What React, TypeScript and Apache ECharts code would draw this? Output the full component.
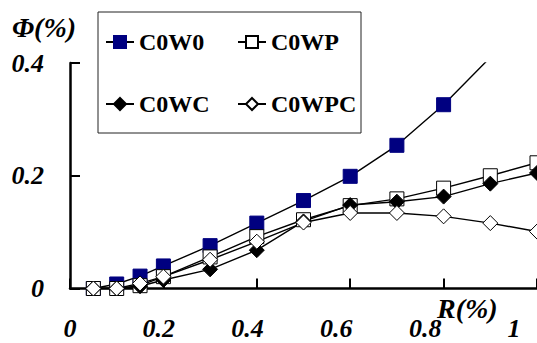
import React, { useEffect, useRef } from "react";
import * as echarts from "echarts";

const xValues = [0.05, 0.1, 0.15, 0.2, 0.3, 0.4, 0.5, 0.6, 0.7, 0.8, 0.9, 1.0];
const c0w0 = [0, 0.008, 0.022, 0.04, 0.076, 0.116, 0.156, 0.199, 0.254, 0.326, 0.41, 0.49];
const c0wp = [0, 0, 0.005, 0.021, 0.056, 0.092, 0.122, 0.147, 0.159, 0.178, 0.2, 0.223];
const c0wc = [0, 0, 0.004, 0.015, 0.034, 0.068, 0.119, 0.148, 0.154, 0.163, 0.186, 0.205];
const c0wpc = [0, 0, 0.009, 0.021, 0.051, 0.083, 0.117, 0.134, 0.134, 0.128, 0.116, 0.101];
const seriesNames = ["C0W0", "C0WP", "C0WC", "C0WPC"];
const xTickLabels = ["0", "0.2", "0.4", "0.6", "0.8", "1"];
const yTickLabels = ["0", "0.2", "0.4"];

const FONT = "Liberation Serif";

export default function App() {
  const ref = useRef<HTMLDivElement>(null);
  useEffect(() => {
    if (!ref.current) return;
    const chart = echarts.init(ref.current, undefined, { renderer: "svg" });
    const pts = (ys: number[]) => xValues.map((x, i) => [x, ys[i]]);
    const labelStyle = {
      fontFamily: FONT,
      fontSize: 26,
      fontWeight: "bold" as const,
      fontStyle: "italic" as const,
      color: "#000",
    };
    const legendText = {
      fontFamily: FONT,
      fontSize: 24,
      fontWeight: "bold" as const,
      color: "#000",
    };
    const legendPos = [
      [105, 30],
      [237, 30],
      [105, 92],
      [237, 92],
    ];
    const mkSeries = (name: string, ys: number[], symbol: string, size: number, fill: string, border: string) => ({
      name,
      type: "line",
      data: pts(ys),
      xAxisIndex: 0,
      symbol,
      symbolSize: size,
      clip: true,
      lineStyle: { color: "#000", width: 1.4 },
      itemStyle: { color: fill, borderColor: border, borderWidth: 1, opacity: 1 },
      emphasis: { disabled: true },
    });
    chart.setOption({
      animation: false,
      title: [
        { text: "Φ(%)", left: 12, top: 13, padding: 0, textStyle: { ...labelStyle, fontSize: 28 } },
        { text: "R(%)", left: 437, top: 294, padding: 0, textStyle: { ...labelStyle, fontSize: 28 } },
      ],
      graphic: [
        {
          type: "rect",
          z: 5,
          shape: { x: 98, y: 12, width: 263, height: 121 },
          style: { fill: "#fff", stroke: "#222", lineWidth: 1 },
        },
      ],
      legend: seriesNames.map((n, i) => ({
        data: [n],
        left: legendPos[i][0],
        top: legendPos[i][1],
        padding: 0,
        z: 10,
        itemWidth: 28,
        itemHeight: 15,
        textStyle: legendText,
        selectedMode: false,
      })),
      grid: { left: 70, right: 0, top: 63, bottom: 54.5, containLabel: false },
      xAxis: [
        {
          type: "value",
          min: 0,
          max: 1,
          interval: 0.2,
          axisLine: { show: true, lineStyle: { color: "#000", width: 2.5 } },
          axisTick: { show: true, inside: true, length: 10, lineStyle: { color: "#000", width: 2 } },
          axisLabel: { show: false },
          splitLine: { show: false },
        },
        {
          type: "value",
          position: "bottom",
          min: 0,
          max: 1.052,
          interval: 0.2,
          axisLine: { show: false },
          axisTick: { show: false },
          splitLine: { show: false },
          axisLabel: {
            ...labelStyle,
            margin: 27,
            showMaxLabel: false,
            formatter: (v: number) => {
              const idx = Math.round(v / 0.2);
              return xTickLabels[idx] ?? "";
            },
          },
        },
      ],
      yAxis: {
        type: "value",
        min: 0,
        max: 0.4,
        interval: 0.2,
        axisLine: { show: true, lineStyle: { color: "#000", width: 2.5 } },
        axisTick: { show: true, inside: true, length: 10, lineStyle: { color: "#000", width: 2 } },
        splitLine: { show: false },
        axisLabel: {
          ...labelStyle,
          margin: 26,
          formatter: (v: number) => yTickLabels[Math.round(v / 0.2)] ?? "",
        },
      },
      series: [
        mkSeries(seriesNames[0], c0w0, "rect", 14, "#000080", "#000080"),
        mkSeries(seriesNames[1], c0wp, "rect", 14, "#fff", "#000"),
        mkSeries(seriesNames[2], c0wc, "diamond", 15, "#000", "#000"),
        mkSeries(seriesNames[3], c0wpc, "diamond", 15, "#fff", "#000"),
      ],
    });
    return () => chart.dispose();
  }, []);
  return (
    <div
      ref={ref}
      style={{ position: "absolute", left: 0, top: 0, width: 537, height: 343, background: "#fff" }}
    />
  );
}
